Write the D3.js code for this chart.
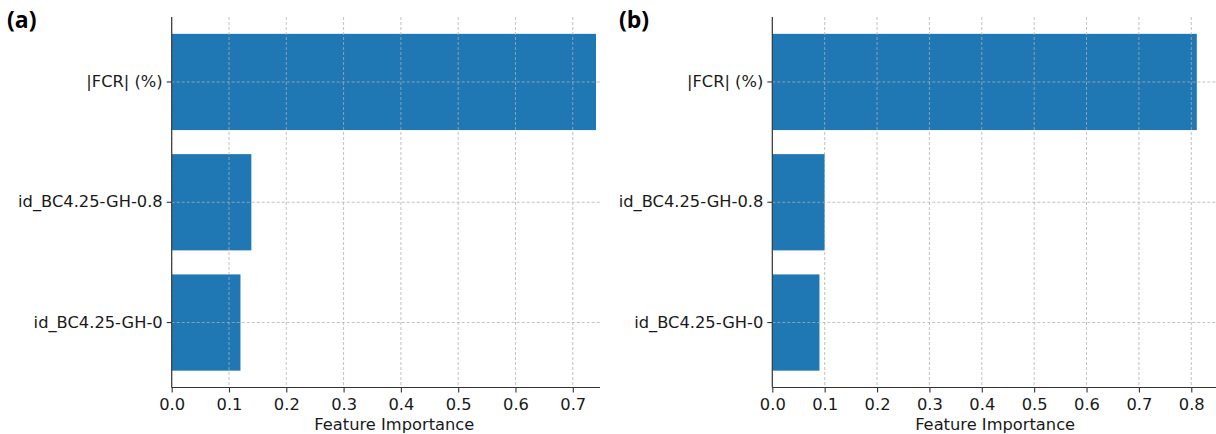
<!DOCTYPE html>
<html>
<head>
<meta charset="utf-8">
<script src="https://cdn.jsdelivr.net/npm/d3@7"></script>
<style>
  body { margin: 0; background: #fff; }
  .tick text { font-family: "DejaVu Sans", sans-serif; font-size: 16.3px; fill: #1a1a1a; }
  .axis-title { font-family: "DejaVu Sans", sans-serif; font-size: 16.3px; fill: #1a1a1a; }
  .panel-label { font-family: "Open Sans", "Liberation Sans", sans-serif; font-weight: bold; font-size: 23px; fill: #000; }
  .grid line { stroke: #b0b0b0; stroke-width: 0.9; stroke-dasharray: 3,2; opacity: 0.85; }
</style>
</head>
<body>
<div id="chart"></div>
<script>
  var width = 1216, height = 434;

  // données
  var features = ["id_BC4.25-GH-0", "id_BC4.25-GH-0.8", "|FCR| (%)"];
  var importance_a = [0.12, 0.139, 0.7405];
  var importance_b = [0.09, 0.10, 0.8105];
  var ticks_a = [0, 0.1, 0.2, 0.3, 0.4, 0.5, 0.6, 0.7];
  var ticks_b = [0, 0.1, 0.2, 0.3, 0.4, 0.5, 0.6, 0.7, 0.8];

  var svg = d3.select("#chart")
              .append("svg")
              .attr("width", width)
              .attr("height", height);

  var top_y = 17, bottom_y = 387.5;

  var panels = [
    { id: "a", label: "(a)", labelX: 7, values: importance_a, ticks: ticks_a,
      left: 171.7, right: 616.9, xmax: 0.777, clipRight: 600 },
    { id: "b", label: "(b)", labelX: 619, values: importance_b, ticks: ticks_b,
      left: 772.3, right: 1218, xmax: 0.851, clipRight: 1216 }
  ];

  panels.forEach(function(p) {
    var xScale = d3.scaleLinear()
                   .domain([0, p.xmax])
                   .range([p.left, p.right]);

    // les catégories du bas vers le haut
    var yScale = d3.scaleBand()
                   .domain(features)
                   .range([bottom_y, top_y])
                   .paddingInner(0.2)
                   .paddingOuter(0.14);

    var g = svg.append("g");

    g.append("clipPath")
      .attr("id", "clip-" + p.id)
      .append("rect")
      .attr("x", p.left)
      .attr("y", top_y - 1)
      .attr("width", p.clipRight - p.left)
      .attr("height", bottom_y - top_y + 2);

    var plot = g.append("g").attr("clip-path", "url(#clip-" + p.id + ")");

    plot.selectAll(".bar")
        .data(features)
        .enter().append("rect")
        .attr("class", "bar")
        .attr("x", xScale(0))
        .attr("y", function(d) { return yScale(d); })
        .attr("width", function(d, i) { return xScale(p.values[i]) - xScale(0); })
        .attr("height", yScale.bandwidth())
        .attr("fill", "#1f77b4");

    // grille par-dessus les barres
    var grid = plot.append("g").attr("class", "grid");
    grid.selectAll(".vgrid")
        .data(p.ticks)
        .enter().append("line")
        .attr("x1", function(d) { return xScale(d); })
        .attr("x2", function(d) { return xScale(d); })
        .attr("y1", top_y)
        .attr("y2", bottom_y);
    grid.selectAll(".hgrid")
        .data(features)
        .enter().append("line")
        .attr("x1", p.left)
        .attr("x2", p.right)
        .attr("y1", function(d) { return yScale(d) + yScale.bandwidth() / 2; })
        .attr("y2", function(d) { return yScale(d) + yScale.bandwidth() / 2; });

    var xAxis = g.append("g")
        .attr("transform", "translate(0," + bottom_y + ")")
        .call(d3.axisBottom(xScale).tickValues(p.ticks)
              .tickFormat(d3.format(".1f")).tickSize(5).tickPadding(6));
    xAxis.select(".domain").remove();
    xAxis.selectAll(".tick line").attr("stroke", "#333").attr("stroke-width", 1.1);

    var yAxis = g.append("g")
        .attr("transform", "translate(" + p.left + ",0)")
        .call(d3.axisLeft(yScale).tickSize(5).tickPadding(4));
    yAxis.select(".domain").remove();
    yAxis.selectAll(".tick line").attr("stroke", "#333").attr("stroke-width", 1.1);

    // axes (spines)
    g.append("line")
      .attr("x1", p.left).attr("x2", p.clipRight)
      .attr("y1", bottom_y).attr("y2", bottom_y)
      .attr("stroke", "#333").attr("stroke-width", 1.2);
    g.append("line")
      .attr("x1", p.left).attr("x2", p.left)
      .attr("y1", top_y).attr("y2", bottom_y)
      .attr("stroke", "#333").attr("stroke-width", 1.2);

    g.append("text")
      .attr("class", "axis-title")
      .attr("x", (p.left + p.right) / 2)
      .attr("y", 430)
      .style("text-anchor", "middle")
      .text("Feature Importance");

    g.append("text")
      .attr("class", "panel-label")
      .attr("x", p.labelX)
      .attr("y", 28)
      .text(p.label);
  });
</script>
</body>
</html>
